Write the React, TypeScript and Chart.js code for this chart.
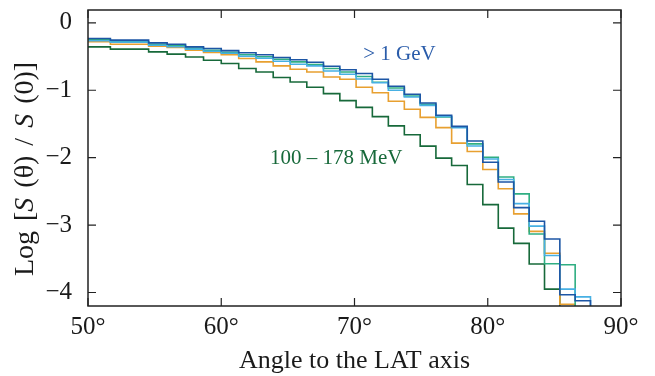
import React, { useEffect, useRef } from "react";
import { Chart, registerables } from "chart.js";

Chart.register(...registerables);

// Bin edges of the histogram (angle to the LAT axis, degrees)
const binEdges = [
  50, 51.68, 53.13, 54.55, 55.94, 57.32, 58.67, 60.0, 61.31, 62.61, 63.9, 65.17,
  66.42, 67.67, 68.9, 70.12, 71.34, 72.54, 73.74, 74.93, 76.11, 77.29, 78.46,
  79.63, 80.79, 81.95, 83.11, 84.26, 85.41, 86.56, 87.71, 88.85,
];

// Log[S(θ)/S(0)] per bin, one list per energy band
const gevAbove1 = [
  -0.232, -0.257, -0.257, -0.297, -0.317, -0.357, -0.381, -0.413, -0.443, -0.473,
  -0.514, -0.547, -0.584, -0.644, -0.696, -0.752, -0.837, -0.941, -1.06, -1.19,
  -1.372, -1.536, -1.752, -2.067, -2.361, -2.741, -2.944, -3.206, -4.034, -4.123,
];
const bandLightBlue = [
  -0.265, -0.287, -0.287, -0.332, -0.354, -0.391, -0.421, -0.451, -0.495, -0.525,
  -0.57, -0.614, -0.639, -0.714, -0.763, -0.833, -0.889, -1.001, -1.1, -1.224,
  -1.387, -1.555, -1.826, -2.019, -2.324, -2.681, -3.016, -3.45, -3.949, -4.064,
];
const bandTeal = [
  -0.25, -0.28, -0.28, -0.317, -0.339, -0.376, -0.406, -0.436, -0.473, -0.503,
  -0.54, -0.58, -0.619, -0.678, -0.729, -0.797, -0.882, -0.967, -1.086, -1.209,
  -1.398, -1.546, -1.796, -1.993, -2.287, -2.537, -3.132, -3.573, -3.588,
];
const bandOrange = [
  -0.28, -0.317, -0.317, -0.346, -0.366, -0.406, -0.44, -0.473, -0.529, -0.58,
  -0.639, -0.688, -0.729, -0.803, -0.837, -0.956, -1.038, -1.164, -1.283, -1.402,
  -1.555, -1.784, -1.908, -2.175, -2.462, -2.834, -3.093, -3.417, -4.175,
];
const mev100to178 = [
  -0.357, -0.391, -0.391, -0.431, -0.465, -0.506, -0.555, -0.604, -0.678, -0.729,
  -0.812, -0.877, -0.956, -1.05, -1.154, -1.254, -1.392, -1.529, -1.66, -1.829,
  -2.007, -2.116, -2.399, -2.696, -3.045, -3.271, -3.578, -3.949,
];

const xTicks = [50, 60, 70, 80, 90];
const xTickLabels = ["50°", "60°", "70°", "80°", "90°"];
const yTicks = [0, -1, -2, -3, -4];
const yTickLabels = ["0", "\u22121", "\u22122", "\u22123", "\u22124"];

const X_MIN = 50;
const X_MAX = 90;
const Y_MIN = -4.2;
const Y_MAX = 0.19;
const FLOOR = -6;

const xTitle = "Angle to the LAT axis";
const labelGeV = "> 1 GeV";
const labelMeV = "100 \u2013 178 MeV";

const SERIF = '"Liberation Serif", "Times New Roman", serif';
const INK = "#1a1a1a";

function toSteps(vals: number[]) {
  const pts = vals.map((v, i) => ({ x: binEdges[i], y: v }));
  pts.push({ x: binEdges[vals.length], y: FLOOR });
  return pts;
}

const framePlugin = {
  id: "frameAndText",
  afterDraw(chart: any) {
    const { ctx, chartArea: a, scales } = chart;
    const x = scales.x;
    const y = scales.y;
    ctx.save();
    // frame
    ctx.strokeStyle = "#222";
    ctx.lineWidth = 1.5;
    ctx.strokeRect(a.left, a.top, a.right - a.left, a.bottom - a.top);
    // inward ticks on all sides
    ctx.lineWidth = 1.2;
    ctx.beginPath();
    for (const v of xTicks) {
      const px = x.getPixelForValue(v);
      ctx.moveTo(px, a.bottom);
      ctx.lineTo(px, a.bottom - 8);
      ctx.moveTo(px, a.top);
      ctx.lineTo(px, a.top + 8);
    }
    for (const v of yTicks) {
      const py = y.getPixelForValue(v);
      ctx.moveTo(a.left, py);
      ctx.lineTo(a.left + 8, py);
      ctx.moveTo(a.right, py);
      ctx.lineTo(a.right - 8, py);
    }
    ctx.stroke();

    // x tick labels
    ctx.fillStyle = INK;
    ctx.font = `25px ${SERIF}`;
    ctx.textAlign = "center";
    ctx.textBaseline = "middle";
    xTicks.forEach((v, i) => {
      ctx.fillText(xTickLabels[i], x.getPixelForValue(v), a.bottom + 21);
    });

    // x title
    ctx.font = `26px ${SERIF}`;
    ctx.fillText(xTitle, (a.left + a.right) / 2, a.bottom + 55);

    // y title with italic S
    const segs: [string, boolean][] = [
      ["Log [", false],
      ["S", true],
      [" (\u03b8) / ", false],
      ["S", true],
      [" (0)]", false],
    ];
    const gap = 3;
    ctx.save();
    ctx.translate(26, 169);
    ctx.rotate(-Math.PI / 2);
    ctx.textAlign = "left";
    let total = 0;
    const widths = segs.map(([t, it]) => {
      ctx.font = `${it ? "italic " : ""}28px ${SERIF}`;
      const spaces = (t.match(/ /g) || []).length;
      const w = ctx.measureText(t).width + spaces * gap;
      total += w;
      return w;
    });
    let cx = -total / 2;
    segs.forEach(([t, it], i) => {
      ctx.font = `${it ? "italic " : ""}28px ${SERIF}`;
      // draw piecewise so spaces can be widened
      let px = cx;
      const parts = t.split(" ");
      parts.forEach((p, k) => {
        ctx.fillText(p, px, 0);
        px += ctx.measureText(p).width;
        if (k < parts.length - 1) px += ctx.measureText(" ").width + gap;
      });
      cx += widths[i];
    });
    ctx.restore();

    // in-plot labels
    ctx.textAlign = "left";
    ctx.font = `21px ${SERIF}`;
    ctx.fillStyle = "#2a5caa";
    ctx.fillText(labelGeV, x.getPixelForValue(70.65), y.getPixelForValue(-0.47));
    ctx.fillStyle = "#17693a";
    ctx.fillText(labelMeV, x.getPixelForValue(63.66), y.getPixelForValue(-2.01));
    ctx.restore();
  },
};

export default function App() {
  const ref = useRef<HTMLCanvasElement>(null);

  useEffect(() => {
    const canvas = ref.current;
    if (!canvas) return;
    const ds = (label: string, vals: number[], color: string) => ({
      label,
      data: toSteps(vals),
      borderColor: color,
      backgroundColor: color,
      borderWidth: 1.6,
      pointRadius: 0,
      stepped: "before" as const,
      fill: false,
    });
    const chart = new Chart(canvas, {
      type: "line",
      data: {
        datasets: [
          ds("> 1 GeV", gevAbove1, "#1d56a5"),
          ds("light blue band", bandLightBlue, "#47b0e3"),
          ds("teal band", bandTeal, "#2fae82"),
          ds("orange band", bandOrange, "#e8a030"),
          ds("100 – 178 MeV", mev100to178, "#17693a"),
        ],
      },
      options: {
        animation: false,
        responsive: false,
        devicePixelRatio: 1,
        layout: { padding: { top: 10, right: 34, left: 0, bottom: 0 } },
        plugins: {
          legend: { display: false },
          tooltip: { enabled: false },
          title: { display: false },
        },
        scales: {
          x: {
            type: "linear",
            min: X_MIN,
            max: X_MAX,
            grid: { display: false },
            border: { display: false },
            ticks: { display: false },
            afterBuildTicks: (s: any) => {
              s.ticks = xTicks.map((v) => ({ value: v }));
            },
            afterFit: (s: any) => {
              s.height = 70;
              s.paddingLeft = 0;
              s.paddingRight = 0;
            },
          },
          y: {
            type: "linear",
            min: Y_MIN,
            max: Y_MAX,
            grid: { display: false },
            border: { display: false },
            ticks: {
              padding: 8,
              color: INK,
              font: { family: SERIF, size: 25 },
              callback: (v: any) => {
                const i = yTicks.indexOf(Number(v));
                return i >= 0 ? yTickLabels[i] : "";
              },
            },
            afterBuildTicks: (s: any) => {
              s.ticks = yTicks.map((v) => ({ value: v }));
            },
            afterFit: (s: any) => {
              s.width = 88;
              s.paddingTop = 0;
              s.paddingBottom = 0;
            },
          },
        },
      },
      plugins: [framePlugin],
    });
    return () => chart.destroy();
  }, []);

  return (
    <div
      style={{
        position: "fixed",
        left: 0,
        top: 0,
        width: 655,
        height: 376,
        background: "#fff",
      }}
    >
      <canvas ref={ref} width={655} height={376} style={{ width: 655, height: 376 }} />
    </div>
  );
}
